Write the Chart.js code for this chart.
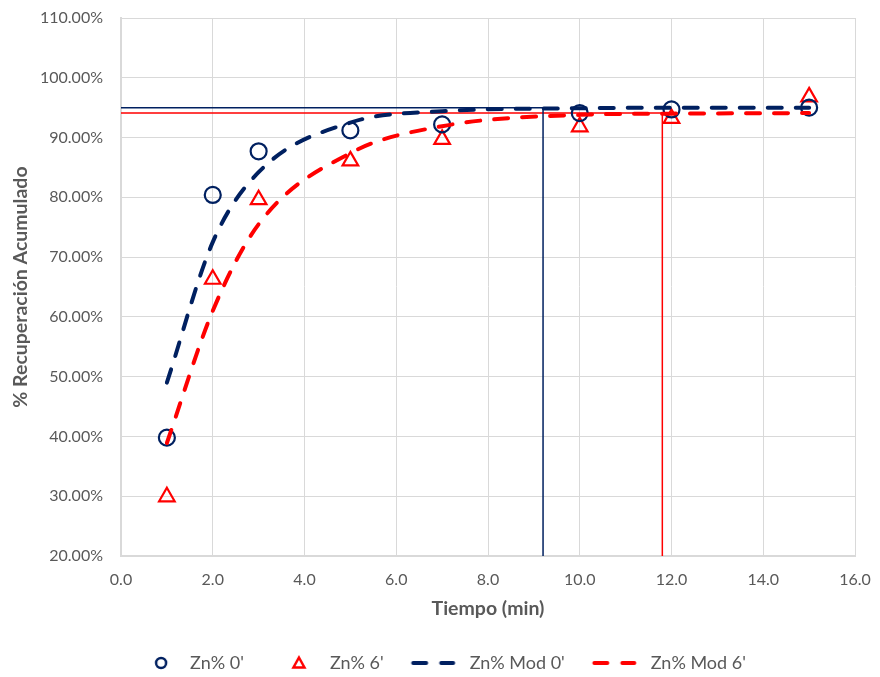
<!DOCTYPE html>
<html><head><meta charset="utf-8">
<script src="https://cdn.jsdelivr.net/npm/chart.js@4.4.1/dist/chart.umd.min.js"></script>
<style>html,body{margin:0;padding:0;background:#fff;} #wrap{width:880px;height:677px;position:relative;}</style>
</head><body><div id="wrap"><canvas id="c" width="880" height="677" style="width:880px;height:677px;"></canvas></div>
<script>
// ---- data ----
const time = [1, 2, 3, 5, 7, 10, 12, 15];
const zn0 = [39.8, 80.4, 87.7, 91.2, 92.2, 94.1, 94.7, 95.0];
const zn6 = [29.9, 66.3, 79.6, 86.1, 89.7, 91.8, 93.2, 96.8];
const mod0 = [49.0, 72.5, 84.2, 92.5, 94.4, 94.9, 95.0, 95.0];
const mod6 = [38.9, 61.0, 75.5, 87.4, 91.9, 93.8, 94.0, 94.1];
const ref0X = [0, 9.2, 9.2];
const ref0Y = [95.0, 95.0, 20];
const ref6X = [0, 11.8, 11.8];
const ref6Y = [94.1, 94.1, 20];
const seriesNames = ["Zn% 0'", "Zn% 6'", "Zn% Mod 0'", "Zn% Mod 6'"];
const yTicks = { min: 20, max: 110, step: 10 };
const xTicks = { min: 0, max: 16, step: 2 };

const NAVY = '#002060', RED = '#FF0000', GRAY = '#595959', GRID = '#d9d9d9';
const FONT = 'Lato, "Liberation Sans", sans-serif';
const pts = (xs, ys) => xs.map((x, i) => ({ x: x, y: ys[i] }));

function mk(draw) { const c = document.createElement('canvas'); c.width = 72; c.height = 20; const g = c.getContext('2d'); draw(g); return c; }
const legCircle = mk(g => { g.strokeStyle = NAVY; g.lineWidth = 2.5; g.beginPath(); g.arc(52, 10, 5, 0, Math.PI * 2); g.stroke(); });
const legTri = mk(g => { g.strokeStyle = RED; g.lineWidth = 2.5; g.lineJoin = 'miter'; g.beginPath(); g.moveTo(50, 4.5); g.lineTo(55.5, 14.5); g.lineTo(44.5, 14.5); g.closePath(); g.stroke(); });
const legDash = col => mk(g => { g.strokeStyle = col; g.lineWidth = 4; g.lineCap = 'round'; g.beginPath(); g.moveTo(24.5, 10); g.lineTo(37.5, 10); g.moveTo(52.5, 10); g.lineTo(64.5, 10); g.stroke(); });
const legendIcons = [legCircle, legTri, legDash(NAVY), legDash(RED)];
const clear = 'rgba(0,0,0,0)';

new Chart(document.getElementById('c'), {
  type: 'scatter',
  data: {
    datasets: [
      { label: seriesNames[0], data: pts(time, zn0), showLine: false, pointStyle: 'circle', pointRadius: 8, pointHoverRadius: 8, borderColor: NAVY, backgroundColor: clear, pointBorderWidth: 2.2, order: 5 },
      { label: seriesNames[1], data: pts(time, zn6), showLine: false, pointStyle: 'triangle', pointRadius: 9, pointHoverRadius: 9, borderColor: RED, backgroundColor: clear, pointBorderWidth: 2.2, order: 5 },
      { label: seriesNames[2], data: pts(time, mod0), showLine: true, pointRadius: 0, borderColor: NAVY, backgroundColor: NAVY, borderWidth: 4, borderDash: [14, 14], borderCapStyle: 'round', cubicInterpolationMode: 'monotone', order: 1 },
      { label: seriesNames[3], data: pts(time, mod6), showLine: true, pointRadius: 0, borderColor: RED, backgroundColor: RED, borderWidth: 4, borderDash: [14, 14], borderCapStyle: 'round', cubicInterpolationMode: 'monotone', order: 1 },
      { label: 'ref0', data: pts(ref0X, ref0Y), showLine: true, pointRadius: 0, borderColor: NAVY, borderWidth: 1.5, tension: 0, order: 10 },
      { label: 'ref6', data: pts(ref6X, ref6Y), showLine: true, pointRadius: 0, borderColor: RED, borderWidth: 1.5, tension: 0, order: 10 }
    ]
  },
  options: {
    responsive: false,
    animation: false,
    devicePixelRatio: 1,
    layout: { padding: { top: 18, right: 25, left: 0, bottom: -5 } },
    plugins: {
      tooltip: { enabled: false },
      legend: {
        position: 'bottom',
        labels: {
          usePointStyle: true,
          pointStyleWidth: 72,
          padding: 5,
          color: GRAY,
          font: { family: FONT, size: 18 },
          filter: item => item.datasetIndex < 4,
          sort: (a, b) => a.datasetIndex - b.datasetIndex,
          generateLabels: chart => {
            const items = Chart.defaults.plugins.legend.labels.generateLabels(chart);
            items.forEach(it => { if (it.datasetIndex < 4) it.pointStyle = legendIcons[it.datasetIndex]; });
            return items;
          }
        }
      }
    },
    scales: {
      x: {
        type: 'linear', min: xTicks.min, max: xTicks.max,
        ticks: { stepSize: xTicks.step, color: GRAY, font: { family: FONT, size: 16 }, padding: 0, maxRotation: 0, callback: v => Number(v).toFixed(1) },
        grid: { color: GRID, lineWidth: 1, drawTicks: true, tickLength: 14, tickColor: clear },
        border: { color: GRID, width: 2 },
        title: { display: true, text: 'Tiempo (min)', color: GRAY, font: { family: FONT, size: 19.5, weight: 'bold' }, padding: { top: 4, bottom: 29 } },
        afterFit: s => { s.height = 93; }
      },
      y: {
        type: 'linear', min: yTicks.min, max: yTicks.max,
        ticks: { stepSize: yTicks.step, color: GRAY, font: { family: FONT, size: 16 }, padding: 0, callback: v => Number(v).toFixed(2) + '%' },
        grid: { color: GRID, lineWidth: 1, drawTicks: true, tickLength: 18, tickColor: clear },
        border: { color: GRID, width: 2 },
        title: { display: true, text: '% Recuperación Acumulado', color: GRAY, font: { family: FONT, size: 19.5, weight: 'bold' }, padding: { top: 9, bottom: 0 } },
        afterFit: s => { s.width = 121; }
      }
    }
  }
});
</script>
</body></html>
